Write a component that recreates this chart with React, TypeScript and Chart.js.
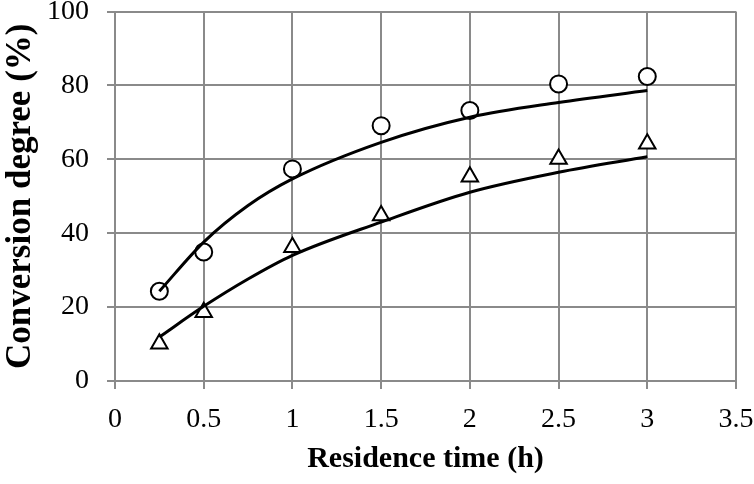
import React, { useEffect, useRef } from "react";
import { Chart, registerables } from "chart.js";

Chart.register(...registerables);

const circleX = [0.25, 0.5, 1, 1.5, 2, 2.5, 3];
const circleY = [24.3, 34.9, 57.4, 69.1, 73.2, 80.4, 82.4];
const triangleX = [0.25, 0.5, 1, 1.5, 2, 2.5, 3];
const triangleY = [10.1, 18.6, 36.2, 44.8, 55.3, 60.1, 64.2];

const fitX = [0.25, 0.5, 0.75, 1, 1.5, 2, 2.5, 3];
const circleFitY = [24.3, 37.6, 47.5, 54.7, 64.6, 71.4, 75.4, 78.6];
const triangleFitY = [11.9, 20.2, 27.6, 34, 43, 51.1, 56.5, 60.7];

const xTickLabels = ["0", "0.5", "1", "1.5", "2", "2.5", "3", "3.5"];
const xTitle = "Residence time (h)";
const yTitle = "Conversion degree (%)";

const FONT = "'Liberation Serif', 'Times New Roman', serif";
const GRID = "#8a8a8a";

const pts = (xs: number[], ys: number[]) => xs.map((x, i) => ({ x, y: ys[i] }));

export default function App() {
  const ref = useRef<HTMLCanvasElement | null>(null);

  useEffect(() => {
    if (!ref.current) return;
    const chart = new Chart(ref.current, {
      type: "line",
      data: {
        datasets: [
          {
            data: pts(fitX, circleFitY),
            borderColor: "#000",
            borderWidth: 3,
            pointRadius: 0,
            cubicInterpolationMode: "monotone",
            fill: false,
          },
          {
            data: pts(fitX, triangleFitY),
            borderColor: "#000",
            borderWidth: 3,
            pointRadius: 0,
            cubicInterpolationMode: "monotone",
            fill: false,
          },
          {
            data: pts(circleX, circleY),
            showLine: false,
            pointStyle: "circle",
            pointRadius: 8.5,
            pointBorderWidth: 2,
            pointBorderColor: "#000",
            pointBackgroundColor: "#fff",
          },
          {
            data: pts(triangleX, triangleY),
            showLine: false,
            pointStyle: "triangle",
            pointRadius: 9.5,
            pointBorderWidth: 2,
            pointBorderColor: "#000",
            pointBackgroundColor: "#fff",
          },
        ],
      },
      options: {
        animation: false,
        responsive: false,
        maintainAspectRatio: false,
        layout: { padding: { top: 11, right: 18, bottom: 7, left: 0 } },
        plugins: { legend: { display: false }, tooltip: { enabled: false } },
        scales: {
          x: {
            type: "linear",
            min: 0,
            max: 3.5,
            ticks: {
              stepSize: 0.5,
              color: "#000",
              font: { family: FONT, size: 28 },
              padding: 14,
              maxRotation: 0,
              autoSkip: false,
              callback: (_v: any, i: number) => xTickLabels[i],
            },
            grid: { color: GRID, lineWidth: 2, tickLength: 8, tickColor: GRID },
            border: { color: GRID, width: 2 },
            title: {
              display: true,
              text: xTitle,
              color: "#000",
              font: { family: FONT, size: 30, weight: "bold" },
              padding: { top: 0, bottom: 0 },
            },
            afterFit: (s: any) => {
              s.height = 96;
              s.paddingLeft = 0;
              s.paddingRight = 0;
            },
          },
          y: {
            min: 0,
            max: 100,
            ticks: {
              stepSize: 20,
              color: "#000",
              font: { family: FONT, size: 28 },
              padding: 18,
            },
            grid: { color: GRID, lineWidth: 2, tickLength: 8, tickColor: GRID },
            border: { color: GRID, width: 2 },
            title: {
              display: true,
              text: yTitle,
              color: "#000",
              font: { family: FONT, size: 35, weight: "bold" },
              padding: { top: 0, bottom: 0 },
            },
            afterFit: (s: any) => {
              s.width = 115;
              s.paddingTop = 0;
              s.paddingBottom = 0;
            },
          },
        },
      },
    } as any);
    return () => chart.destroy();
  }, []);

  return (
    <div style={{ position: "absolute", left: 0, top: 0, width: 754, height: 484, background: "#fff" }}>
      <canvas ref={ref} width={754} height={484} />
    </div>
  );
}
